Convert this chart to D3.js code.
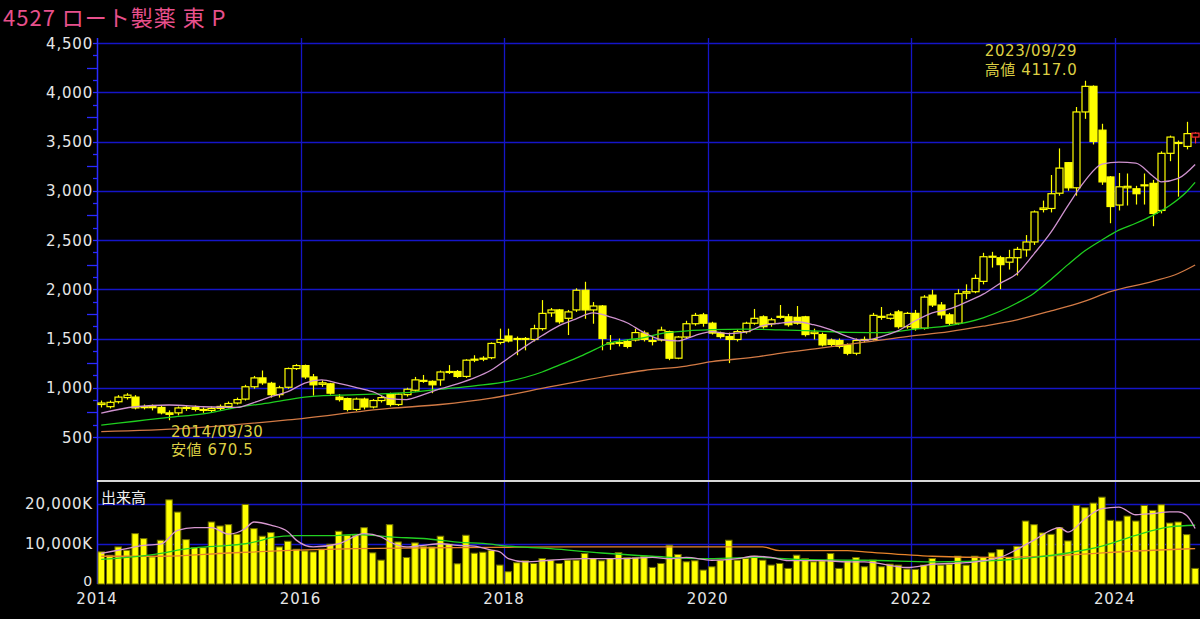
<!DOCTYPE html>
<html><head><meta charset="utf-8">
<script src="https://cdn.jsdelivr.net/npm/d3@7"></script>
<style>
html,body{margin:0;padding:0;background:#000;}
svg{display:block;}
</style></head>
<body>
<svg id="c" width="1200" height="619"></svg>
<script>
// ---------- DATA ----------
const title = "4527 ロート製薬 東 P";
const startMonth = "2014-01";
const open  = [830,808,858,900,905,800,808,800,745,745,790,800, 780,770,790,810,845,885,1010,1100,1045,930,1005,1195, 1225,1110,1035,1040,905,890,780,885,805,870,940,830, 930,975,1075,1065,1080,1160,1165,1115,1280,1290,1305,1460, 1525,1490,1500,1490,1600,1760,1790,1705,1790,1990,1790,1830, 1455,1450,1470,1485,1555,1480,1485,1570,1300,1515,1650,1740, 1655,1555,1520,1490,1570,1655,1720,1650,1715,1720,1715,1720, 1550,1540,1485,1480,1435,1350,1480,1490,1725,1705,1770,1620, 1755,1605,1940,1840,1740,1655,1960,1975,2080,2330,2320,2275, 2320,2400,2480,2810,2820,2975,3285,3030,3800,4060,3615,3140, 2855,3030,3020,3050,3075,2800,3380,3480,3450,3545];
const high  = [870,870,925,945,925,830,830,815,770,810,815,820, 800,810,830,860,900,1030,1120,1175,1060,1020,1205,1240, 1235,1140,1075,1050,935,900,900,900,885,920,950,945, 1000,1110,1130,1075,1175,1230,1180,1290,1330,1320,1460,1600, 1600,1520,1515,1640,1890,1810,1800,1790,2010,2076,1870,1840, 1535,1500,1490,1600,1580,1535,1620,1580,1525,1680,1760,1760, 1670,1570,1560,1590,1670,1800,1735,1710,1840,1750,1830,1730, 1600,1560,1500,1500,1450,1500,1520,1760,1820,1760,1790,1770, 1790,1940,1995,1870,1760,2000,2050,2150,2370,2380,2340,2400, 2430,2550,2800,2900,3160,3430,3290,3850,4117,4070,3680,3150, 3180,3175,3050,3175,3110,3400,3560,3510,3700,3595];
const low   = [800,790,840,880,780,780,770,730,670.5,720,765,760, 745,750,770,790,830,870,990,1030,900,900,990,1180, 1090,920,1010,930,860,760,765,780,790,850,810,815, 910,960,1050,945,1020,1140,1100,1100,1260,1270,1290,1440, 1460,1330,1380,1470,1580,1720,1650,1535,1770,1700,1650,1380, 1385,1420,1400,1470,1470,1430,1470,1280,1290,1500,1630,1620, 1540,1500,1250,1470,1550,1640,1600,1620,1700,1620,1640,1520, 1490,1420,1420,1400,1330,1330,1460,1480,1690,1690,1600,1600, 1580,1590,1820,1700,1630,1640,1900,1960,2050,2220,2000,2200, 2140,2330,2450,2780,2780,2950,3000,2950,3730,3470,3060,2670, 2800,2850,2860,2860,2640,2770,3300,2940,3420,3480];
const close = [845,852,905,925,795,808,800,745,730,795,800,780, 770,790,810,840,880,1010,1100,1050,930,1000,1195,1225, 1110,1030,1050,945,880,780,885,805,870,900,830,935, 985,1080,1070,1030,1160,1165,1115,1280,1290,1300,1450,1490, 1475,1500,1495,1600,1755,1790,1670,1770,1990,1790,1830,1500, 1450,1460,1420,1560,1490,1470,1585,1300,1515,1650,1735,1655, 1555,1520,1490,1570,1655,1705,1620,1690,1725,1640,1655,1540, 1565,1435,1440,1420,1350,1480,1490,1735,1720,1740,1620,1755, 1605,1920,1840,1740,1655,1955,1975,2110,2330,2335,2250,2320, 2405,2480,2785,2825,2970,3230,3030,3800,4060,3500,3090,2840, 3040,3045,2970,3060,2770,3380,3545,3490,3580,3585];
// volume in thousand shares
const volume = [7980,7150,9210,8390,12520,11280,6740,10870,20910,17870,11030,9050, 9050,15400,14410,14750,12350,19760,13760,11870,12770,9210,10620,8640, 8230,7980,8640,9880,13100,12110,12110,14000,7740,5930,14750,10450, 6580,10210,9370,9210,11870,9880,5020,12110,7650,7900,8390,4700, 3050,5270,5770,5100,6330,5930,5100,5930,5930,7570,6330,5770, 6330,7820,6580,6580,6910,4120,5100,9630,7330,5520,5770,3460, 4280,5930,10870,5930,6330,6910,5930,4700,5100,3870,7160,6340, 5520,5770,7570,3870,5770,6580,4280,5930,4280,4940,4690,3710, 3620,4690,6330,4690,4940,6910,4690,6910,6580,7740,8560,6580, 9370,15640,14740,12680,12350,14000,10700,19510,18940,20100,21570,15810, 15640,16870,15640,19510,18280,19680,15150,15400,12270,3870];
// moving averages: [month index, value]
const maShort = [[0,742],[4,807],[8,825],[12,807],[16,800],[18,850],[20,909],[22,960],[24,1048],[26,1079],[28,1045],[30,1005],[32,960],[34,890],[36,880],[38,930],[40,990],[42,1040],[44,1100],[46,1180],[48,1300],[50,1420],[52,1530],[54,1630],[56,1700],[58,1760],[60,1720],[62,1660],[64,1560],[66,1490],[68,1475],[70,1530],[72,1570],[74,1550],[76,1565],[78,1630],[80,1655],[82,1670],[84,1640],[86,1590],[88,1520],[90,1480],[92,1520],[94,1580],[96,1680],[98,1760],[100,1800],[102,1870],[104,1950],[106,2060],[108,2160],[110,2360],[112,2580],[114,2850],[116,3100],[118,3270],[120,3290],[122,3280],[124,3150],[125,3090],[127,3125],[129,3267]];
const maMid = [[0,620],[4,660],[8,700],[12,735],[16,800],[20,850],[24,905],[28,925],[32,935],[36,950],[40,985],[44,1020],[48,1065],[52,1160],[54,1230],[56,1300],[58,1380],[60,1455],[62,1485],[64,1510],[66,1550],[68,1570],[72,1590],[76,1596],[80,1588],[84,1578],[88,1562],[92,1560],[96,1595],[100,1630],[104,1710],[108,1860],[110,1960],[112,2100],[114,2250],[116,2390],[118,2500],[120,2600],[122,2670],[124,2750],[126,2850],[128,2990],[129,3085]];
const maLong = [[0,555],[10,588],[22,673],[34,790],[40,830],[46,895],[53,1011],[56,1060],[61,1135],[64,1175],[69,1220],[72,1265],[77,1310],[80,1350],[85,1405],[88,1440],[95,1520],[100,1570],[104,1625],[108,1690],[112,1780],[116,1880],[119,1975],[124,2080],[127,2160],[129,2246]];
const volMaShort = [[0,7600],[3,8800],[5,9600],[7,9900],[9,13300],[11,14000],[13,14000],[15,12400],[17,13800],[18,15400],[20,14600],[22,13000],[23,10900],[25,9200],[28,10000],[31,12500],[33,11700],[34,10500],[36,9200],[38,9600],[40,10000],[42,9600],[44,9400],[46,8400],[47,8000],[48,6300],[50,5500],[53,5900],[57,6300],[61,6300],[65,6600],[67,6300],[69,6600],[72,5900],[75,6300],[77,6900],[79,6600],[81,5800],[85,5800],[88,5500],[90,5500],[95,4100],[98,4900],[102,5300],[106,6600],[108,8600],[110,10900],[113,14000],[114,12900],[116,16200],[118,18700],[120,19100],[122,17200],[124,17500],[126,17900],[127,17900],[128,17000],[129,13800]];
const volMaMid = [[0,6100],[3,6600],[7,7600],[9,8400],[11,9000],[15,9600],[17,10000],[19,10900],[20,11500],[23,12000],[27,12000],[30,12300],[32,12100],[34,11700],[38,11300],[42,10400],[46,9900],[47,9600],[53,8800],[59,7700],[65,6900],[71,6300],[77,6600],[82,6100],[88,5900],[90,5900],[98,5500],[106,5900],[110,6600],[114,7700],[118,9400],[122,12100],[126,14200],[129,14600]];
const volMaLong = [[0,6900],[7,6900],[15,7700],[23,8400],[30,8800],[38,9000],[46,9100],[55,9200],[65,9200],[78,9200],[80,8300],[88,8300],[90,8000],[98,6900],[106,6600],[114,7200],[122,8200],[129,8800]];
const priceTicks = [500,1000,1500,2000,2500,3000,3500,4000,4500];
const volTicks = [0,10000,20000];
const volTickLabels = ["0","10,000K","20,000K"];
const yearLabels = ["2014","2016","2018","2020","2022","2024"];
const highNote = ["2023/09/29","高値 4117.0"];
const lowNote = ["2014/09/30","安値 670.5"];
const volLabel = "出来高";

// ---------- LAYOUT ----------
const N = close.length;
const t0 = d3.timeParse("%Y-%m")(startMonth);
const months = d3.range(N).map(i => d3.timeFormat("%Y/%m")(d3.timeMonth.offset(t0, i)));
const L = 97, R = 1200, step = 8.48;
const svg = d3.select("#c");
svg.append("rect").attr("width",1200).attr("height",619).attr("fill","#000");

const x = d3.scaleBand().domain(months).range([L, L + N*step]).paddingInner(0);
const cx = i => x(months[i]) + x.bandwidth()/2;
const yP = d3.scaleLinear().domain([500,4500]).range([437,43]);
const yV = d3.scaleLinear().domain([0,20000]).range([584,503.5]);

const gridCol = "#1515c8", axisCol = "#2a2aff", labCol = "#e6e6e6";
const labFont = "DejaVu Sans, Verdana, sans-serif";
const noteFont = "DejaVu Sans, Noto Sans CJK JP, sans-serif";

// horizontal grid - price
svg.append("g").selectAll("line").data(priceTicks).join("line")
  .attr("x1",L).attr("x2",R).attr("y1",d=>Math.round(yP(d))+0.5).attr("y2",d=>Math.round(yP(d))+0.5)
  .attr("stroke",gridCol).attr("stroke-width",1.3);
// horizontal grid - volume
svg.append("g").selectAll("line").data(volTicks.filter(d=>d>0)).join("line")
  .attr("x1",L).attr("x2",R).attr("y1",d=>Math.round(yV(d))+0.5).attr("y2",d=>Math.round(yV(d))+0.5)
  .attr("stroke",gridCol).attr("stroke-width",1.3);
// vertical grid at years
const yearIdx = yearLabels.map(y => months.indexOf(y + "/01"));
svg.append("g").selectAll("line").data(yearIdx.filter(i=>i>0)).join("line")
  .attr("x1",i=>Math.round(x(months[i]))+0.5).attr("x2",i=>Math.round(x(months[i]))+0.5)
  .attr("y1",38).attr("y2",584).attr("stroke",gridCol).attr("stroke-width",1.3);

// left axis line + minor ticks
svg.append("line").attr("x1",L+0.5).attr("x2",L+0.5).attr("y1",38).attr("y2",584)
  .attr("stroke",axisCol).attr("stroke-width",1.5);
const minorP = d3.range(625, 4500, 125).filter(v => v % 500 !== 0);
svg.append("g").selectAll("line").data(minorP).join("line")
  .attr("x1",d=> d%250===0 ? L-10 : L-4).attr("x2",L)
  .attr("y1",d=>Math.round(yP(d))+0.5).attr("y2",d=>Math.round(yP(d))+0.5)
  .attr("stroke",axisCol).attr("stroke-width",1.3);
svg.append("g").selectAll("line").data(priceTicks).join("line")
  .attr("x1",L-4).attr("x2",L).attr("y1",d=>Math.round(yP(d))+0.5).attr("y2",d=>Math.round(yP(d))+0.5)
  .attr("stroke",axisCol).attr("stroke-width",1.3);

// separator
svg.append("line").attr("x1",L).attr("x2",R).attr("y1",481).attr("y2",481)
  .attr("stroke","#d8d8d8").attr("stroke-width",2);

// labels
svg.append("g").selectAll("text").data(priceTicks).join("text")
  .attr("x",93).attr("y",d=>yP(d)+5.5).attr("text-anchor","end")
  .attr("fill",labCol).attr("font-family",labFont).attr("font-size",15).attr("letter-spacing",0.8)
  .text(d=>d3.format(",")(d));
svg.append("g").selectAll("text").data(volTicks).join("text")
  .attr("x",93).attr("y",d=> d===0 ? yV(d)+2 : yV(d)+5.5).attr("text-anchor","end")
  .attr("fill",labCol).attr("font-family",labFont).attr("font-size",d=>d===0?14:15).attr("letter-spacing",0.8)
  .text((d,i)=>volTickLabels[i]);
svg.append("g").selectAll("text").data(yearLabels).join("text")
  .attr("x",(d,i)=>x(months[yearIdx[i]])).attr("y",604).attr("text-anchor","middle")
  .attr("fill",labCol).attr("font-family",labFont).attr("font-size",15).attr("letter-spacing",0.8)
  .text(d=>d);
svg.append("text").attr("x",3).attr("y",26).attr("fill","#e8508c")
  .attr("font-family","Noto Sans CJK JP, sans-serif").attr("font-size",22).attr("letter-spacing",1)
  .text(title);
svg.append("text").attr("x",101).attr("y",503).attr("fill","#f0f0f0")
  .attr("font-family","Noto Sans CJK JP, sans-serif").attr("font-size",15).text(volLabel);

// ---------- VOLUME ----------
const bw = 6.5;
svg.append("g").selectAll("rect").data(volume).join("rect")
  .attr("x",(d,i)=>cx(i)-bw/2).attr("width",bw)
  .attr("y",d=>yV(d)).attr("height",d=>yV(0)-yV(d))
  .attr("fill","#ffff00").attr("stroke","#6e6e00").attr("stroke-width",1);

const lineV = d3.line().x(d=>cx(d[0])).y(d=>yV(d[1])).curve(d3.curveMonotoneX);
[[volMaLong,"#e8842a"],[volMaMid,"#22d022"],[volMaShort,"#d898d0"]].forEach(([s,c])=>{
  svg.append("path").attr("d",lineV(s)).attr("fill","none").attr("stroke",c).attr("stroke-width",1.3);
});

// ---------- CANDLES ----------
const cw = 7;
const cg = svg.append("g");
d3.range(N).forEach(i=>{
  const last = i === N-1;
  const col = last ? "#ff3030" : "#ffff00";
  const xc = Math.round(cx(i)) + 0.5;
  cg.append("line").attr("x1",xc).attr("x2",xc).attr("y1",yP(high[i])).attr("y2",yP(low[i]))
    .attr("stroke",col).attr("stroke-width",1.2);
  const up = close[i] >= open[i];
  const top = yP(Math.max(open[i],close[i])), bot = yP(Math.min(open[i],close[i]));
  cg.append("rect").attr("x",xc-cw/2).attr("width",cw)
    .attr("y",top).attr("height",Math.max(1,bot-top))
    .attr("fill",up ? "#000" : col).attr("stroke",col).attr("stroke-width",1.2);
});

const lineP = d3.line().x(d=>cx(d[0])).y(d=>yP(d[1])).curve(d3.curveMonotoneX);
[[maLong,"#d27a45"],[maMid,"#1fcf1f"],[maShort,"#cf92cf"]].forEach(([s,c])=>{
  svg.append("path").attr("d",lineP(s)).attr("fill","none").attr("stroke",c).attr("stroke-width",1.3);
});

// annotations
const noteCol = "#dccf44";
svg.append("g").selectAll("text").data(highNote).join("text")
  .attr("x",1031).attr("y",(d,i)=>56+i*19).attr("text-anchor","middle")
  .attr("fill",noteCol).attr("font-family",noteFont).attr("font-size",15).attr("letter-spacing",0.6).text(d=>d);
svg.append("g").selectAll("text").data(lowNote).join("text")
  .attr("x",171).attr("y",(d,i)=>437+i*18).attr("text-anchor","start")
  .attr("fill",noteCol).attr("font-family",noteFont).attr("font-size",15).attr("letter-spacing",0.6).text(d=>d);
</script>
</body></html>
